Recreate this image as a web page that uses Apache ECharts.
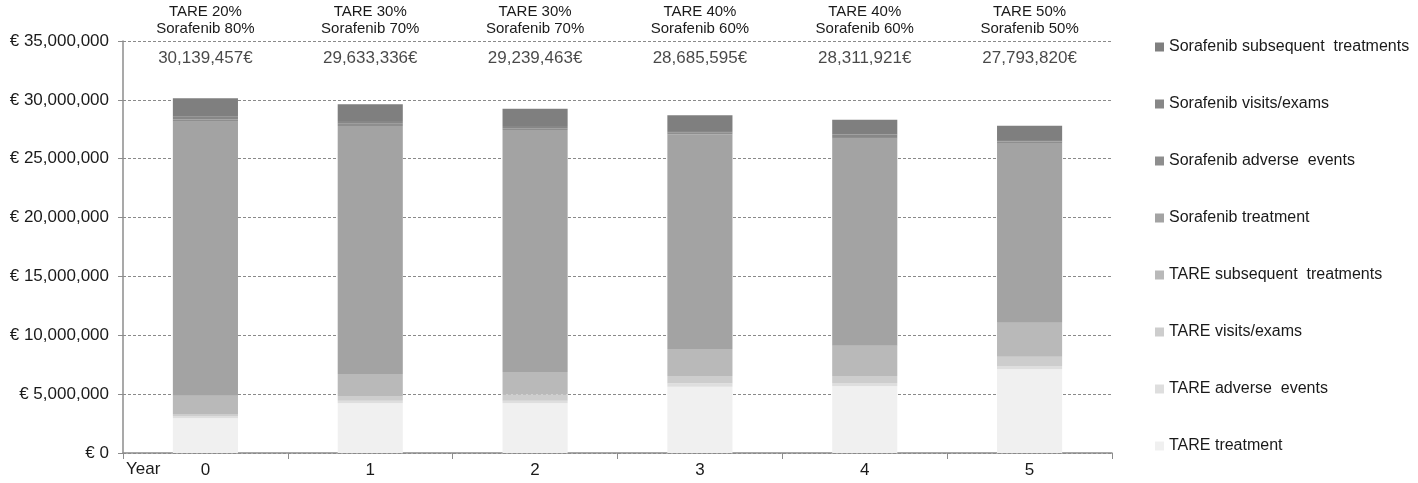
<!DOCTYPE html>
<html>
<head>
<meta charset="utf-8">
<script src="https://cdn.jsdelivr.net/npm/echarts@6/dist/echarts.min.js"></script>
<style>html,body{margin:0;padding:0;background:#fff}#c{width:1418px;height:483px}</style>
</head>
<body>
<div id="c"></div>
<script>
const years = ['0', '1', '2', '3', '4', '5'];
const scenarios = ['TARE 20%\nSorafenib 80%', 'TARE 30%\nSorafenib 70%', 'TARE 30%\nSorafenib 70%', 'TARE 40%\nSorafenib 60%', 'TARE 40%\nSorafenib 60%', 'TARE 50%\nSorafenib 50%'];
const totals = [30139457, 29633336, 29239463, 28685595, 28311921, 27793820];
const totalLabelLevel = 33550000;

const tareTreatment      = [2950000, 4220000, 4220000, 5630000, 5660000, 7110000];
const tareAdverse        = [190000, 220000, 220000, 290000, 290000, 280000];
const tareVisits         = [170000, 400000, 550000, 620000, 590000, 790000];
const tareSubsequent     = [1560000, 1870000, 1890000, 2300000, 2580000, 2890000];
const sorTreatment       = [23280000, 21070000, 20560000, 18240000, 17580000, 15270000];
const sorAdverse         = [180000, 180000, 150000, 120000, 150000, 120000];
const sorVisits          = [240000, 240000, 190000, 160000, 200000, 140000];
const sorSubsequent      = [1569457, 1433336, 1459463, 1325595, 1261921, 1193820];

const seriesNames = ['TARE treatment', 'TARE adverse  events', 'TARE visits/exams', 'TARE subsequent  treatments',
  'Sorafenib treatment', 'Sorafenib adverse  events', 'Sorafenib visits/exams', 'Sorafenib subsequent  treatments'];
const seriesData = [tareTreatment, tareAdverse, tareVisits, tareSubsequent, sorTreatment, sorAdverse, sorVisits, sorSubsequent];
const colors = ['#f0f0f0', '#dedede', '#cdcdcd', '#b9b9b9', '#a3a3a3', '#8e8e8e', '#878787', '#7f7f7f'];

const font = 'Liberation Sans, Arial, sans-serif';
const chart = echarts.init(document.getElementById('c'));

function fmtEuro(v) {
  if (v === 0) return '€ 0';
  return '€ ' + v.toLocaleString('en-US');
}

const series = seriesNames.map((n, i) => ({
  name: n, type: 'bar', stack: 'cost', barWidth: '39.5%',
  itemStyle: { color: colors[i] },
  data: seriesData[i]
}));
series.push({
  name: 'totals', type: 'scatter', symbolSize: 0, silent: true,
  data: totals.map((t, i) => [years[i], totalLabelLevel]),
  label: {
    show: true, position: 'inside', color: '#1a1a1a', fontSize: 17, fontFamily: font,
    formatter: p => totals[p.dataIndex].toLocaleString('en-US') + '€'
  }
});

chart.setOption({
  animation: false,
  color: colors,
  textStyle: { fontFamily: font },
  grid: { left: 123, right: 306, top: 41, bottom: 30 },
  legend: {
    orient: 'vertical', left: 1150, top: 34, itemGap: 41,
    itemWidth: 9, itemHeight: 9, icon: 'rect',
    data: seriesNames.slice().reverse(),
    textStyle: { fontSize: 16, color: '#1a1a1a', fontFamily: font }
  },
  xAxis: [
    {
      type: 'category', data: years, position: 'bottom',
      axisLine: { lineStyle: { color: '#8c8c8c', width: 1.5 } },
      axisTick: { show: true, length: 6, lineStyle: { color: '#8c8c8c' } },
      axisLabel: { fontSize: 17, color: '#1a1a1a', margin: 9, fontFamily: font }
    },
    {
      type: 'category', data: scenarios, position: 'top',
      axisLine: { show: false }, axisTick: { show: false },
      axisLabel: { fontSize: 15, color: '#1a1a1a', margin: 4, lineHeight: 17, fontFamily: font }
    }
  ],
  yAxis: {
    type: 'value', min: 0, max: 35000000, interval: 5000000,
    axisLine: { show: true, lineStyle: { color: '#8c8c8c', width: 1.5 } },
    axisTick: { show: true, length: 5, lineStyle: { color: '#8c8c8c' } },
    splitLine: { lineStyle: { color: '#8a8a8a', type: [3, 2], width: 1 } },
    axisLabel: { fontSize: 17, color: '#1a1a1a', margin: 14, formatter: fmtEuro, fontFamily: font }
  },
  graphic: [{
    type: 'text', left: 126, top: 461,
    style: { text: 'Year', fontSize: 17, fill: '#1a1a1a', fontFamily: font }
  }],
  series: series
});
</script>
</body>
</html>
